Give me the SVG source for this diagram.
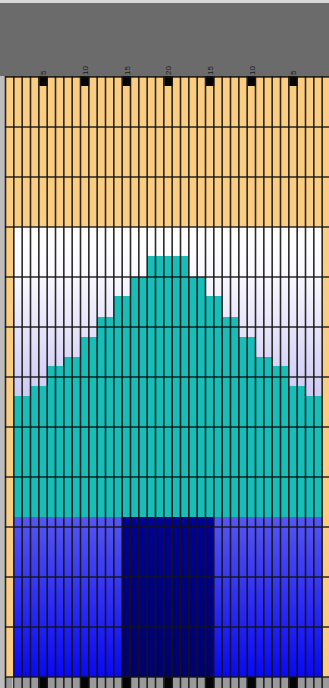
<svg xmlns="http://www.w3.org/2000/svg" width="329" height="688" viewBox="0 0 329 688">
<defs>
<style>
.lbl{font-family:"Liberation Sans",Arial,sans-serif;font-size:8px;fill:#1a1a1a}
.v{stroke:#141414;stroke-width:1.6;stroke-opacity:0.9}
.h{stroke:#141414;stroke-width:1.7;stroke-opacity:0.9}
.tick{fill:#050505}
</style>
<linearGradient id="lav" x1="0" y1="227" x2="0" y2="517" gradientUnits="userSpaceOnUse">
<stop offset="0" stop-color="#ffffff"/>
<stop offset="0.15" stop-color="#fbfaff"/>
<stop offset="1" stop-color="#a39be9"/>
</linearGradient>
<linearGradient id="blue" x1="0" y1="517" x2="0" y2="677" gradientUnits="userSpaceOnUse">
<stop offset="0" stop-color="#5656f2"/>
<stop offset="1" stop-color="#0808f6"/>
</linearGradient>
<linearGradient id="navy" x1="0" y1="517" x2="0" y2="677" gradientUnits="userSpaceOnUse">
<stop offset="0" stop-color="#000094"/>
<stop offset="1" stop-color="#00006c"/>
</linearGradient>
</defs>
<g id="background">
<rect x="0" y="0" width="329" height="688" fill="#6b6b6b"/>
<rect x="0" y="0" width="329" height="3" fill="#d8d8d8"/>
<rect x="0" y="76" width="5.5" height="612" fill="#bdbdbd"/>
</g>
<g id="bands">
<rect x="5.5" y="76" width="325" height="151" fill="#fbcd82"/>
<rect x="13.8" y="227" width="308.4" height="290" fill="url(#lav)"/>
<rect x="5.5" y="227" width="8.33" height="450" fill="#fbcd82"/>
<rect x="322.2" y="227" width="8.33" height="450" fill="#fbcd82"/>
<rect x="13.8" y="517" width="308.4" height="160" fill="url(#blue)"/>
<rect x="122.2" y="517" width="91.6" height="160" fill="url(#navy)"/>
<path id="pyramid" fill="#17bdb6" d="M13.83,517 V396 H30.5 V386 H47.17 V366 H63.83 V357 H80.5 V337 H97.17 V317 H113.83 V296 H130.5 V277 H147.17 V256 H188.83 V277 H205.5 V296 H222.17 V317 H238.83 V337 H255.5 V357 H272.17 V366 H288.83 V386 H305.5 V396 H322.17 V517 Z"/>
<rect x="5.5" y="677" width="325" height="11" fill="#9a9a9a"/>
<rect x="12.5" y="677" width="2.5" height="11" fill="#e8e8e8"/>
</g>
<g id="ticks">
<rect class="tick" x="39.3" y="76" width="8.3" height="10"/>
<rect class="tick" x="81" y="76" width="8.3" height="10"/>
<rect class="tick" x="122.6" y="76" width="8.3" height="10"/>
<rect class="tick" x="164.3" y="76" width="8.3" height="10"/>
<rect class="tick" x="206" y="76" width="8.3" height="10"/>
<rect class="tick" x="247.6" y="76" width="8.3" height="10"/>
<rect class="tick" x="289.3" y="76" width="8.3" height="10"/>
<rect class="tick" x="39.3" y="677" width="8.3" height="11"/>
<rect class="tick" x="81" y="677" width="8.3" height="11"/>
<rect class="tick" x="122.6" y="677" width="8.3" height="11"/>
<rect class="tick" x="164.3" y="677" width="8.3" height="11"/>
<rect class="tick" x="206" y="677" width="8.3" height="11"/>
<rect class="tick" x="247.6" y="677" width="8.3" height="11"/>
<rect class="tick" x="289.3" y="677" width="8.3" height="11"/>
</g>
<g id="grid-lines">
<path class="v" d="M5.5,76V688M13.83,76V688M22.17,76V688M30.5,76V688M38.83,76V688M47.17,76V688M55.5,76V688M63.83,76V688M72.17,76V688M80.5,76V688M88.83,76V688M97.17,76V688M105.5,76V688M113.83,76V688M122.17,76V688M130.5,76V688M138.83,76V688M147.17,76V688M155.5,76V688M163.83,76V688M172.17,76V688M180.5,76V688M188.83,76V688M197.17,76V688M205.5,76V688M213.83,76V688M222.17,76V688M230.5,76V688M238.83,76V688M247.17,76V688M255.5,76V688M263.83,76V688M272.17,76V688M280.5,76V688M288.83,76V688M297.17,76V688M305.5,76V688M313.83,76V688M322.17,76V688"/>
<path class="h" d="M5.5,76.8H329M5.5,127H329M5.5,177H329M5.5,227H329M5.5,277H329M5.5,327H329M5.5,377H329M5.5,427H329M5.5,477H329M5.5,527H329M5.5,577H329M5.5,627H329M5.5,677H329"/>
</g>
<g id="labels">
<text class="lbl" transform="translate(46.3,75) rotate(-90)">5</text>
<text class="lbl" transform="translate(88,75) rotate(-90)">10</text>
<text class="lbl" transform="translate(129.7,75) rotate(-90)">15</text>
<text class="lbl" transform="translate(171.3,75) rotate(-90)">20</text>
<text class="lbl" transform="translate(213,75) rotate(-90)">15</text>
<text class="lbl" transform="translate(254.7,75) rotate(-90)">10</text>
<text class="lbl" transform="translate(296.3,75) rotate(-90)">5</text>
</g>
</svg>
